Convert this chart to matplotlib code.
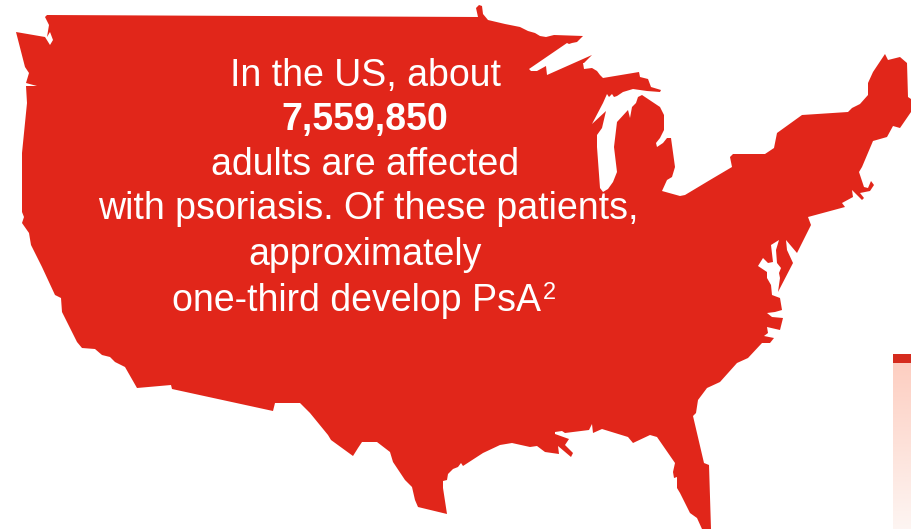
import numpy as np
import matplotlib.pyplot as plt

# Map outline (pixel positions), clockwise from the north west corner
outline = [
    (47,15),(478,17),(476,8),(479,5),(482,6),(483,14),(488,20),(505,24),(520,27),(528,31),(535,33),(540,36),(546,37),(554,35),(583,36),
    (577,42),(572,43),(569,44),(567,43),(529,69),(531,71),(537,71),(546,66),(547,75),(592,55),(584,63),(583,63),(584,69),(592,68),
    (597,71),(600,75),(603,78),(639,72),(640,77),(648,79),(651,87),(661,90),(660,92),(647,91),(633,89),(623,92),(617,96),(614,97),
    (612,94),(609,97),(607,94),(603,103),(592,124),(606,111),(602,128),(597,135),(597,147),(600,188),(603,192),(608,189),(613,182),
    (617,172),(614,147),(617,122),(628,110),(630,118),(632,107),(636,103),(638,97),(642,95),(660,107),(664,115),(664,130),(660,138),
    (656,143),(657,147),(663,143),(667,138),(671,138),(675,167),(672,177),(667,180),(662,191),(680,196),(685,195),(710,180),
    (732,167),(730,157),(733,154),(765,154),(774,148),(777,133),(802,115),(848,112),(852,108),(860,104),(868,95),(868,83),(873,72),
    (885,54),(888,60),(900,57),(907,63),(908,97),(911,99),(911,112),(900,128),(893,126),(887,137),(873,141),(862,167),(859,172),
    (864,187),(868,188),(871,181),(874,185),(870,191),(860,193),(864,198),(862,200),(857,195),(852,190),(853,197),(842,203),(845,207),
    (808,217),(811,225),(797,253),(786,240),(787,250),(793,263),(778,292),(780,278),(779,273),(781,268),(777,263),(776,250),(779,240),
    (771,245),(773,262),(768,263),(763,258),(758,266),(767,272),(767,278),(771,285),(772,295),(780,298),(782,310),(775,312),(767,313),
    (772,317),(783,318),(780,330),(767,327),(768,333),(764,336),(774,338),(770,343),(762,343),(748,358),(737,363),(720,382),(707,388),
    (698,400),(696,413),(693,416),(704,463),(709,465),(711,529),(702,529),(697,518),(690,513),(680,493),(677,488),(677,477),(674,478),
    (673,472),(675,463),(657,437),(650,435),(633,443),(628,437),(602,429),(593,433),(592,424),(589,430),(565,433),(562,431),(555,432),
    (555,434),(569,439),(565,445),(573,453),(571,457),(558,446),(559,454),(545,452),(537,446),(530,447),(512,443),(500,445),(483,453),
    (463,466),(461,463),(458,467),(453,469),(448,474),(447,480),(443,481),(443,488),(447,514),(418,507),(415,500),(412,487),(405,480),
    (393,462),(390,452),(377,442),(362,442),(358,448),(353,456),(331,440),(328,435),(310,413),(300,403),(275,403),(273,411),(172,389),
    (171,385),(137,388),(125,367),(115,362),(110,357),(102,355),(95,349),(82,348),(77,342),(62,312),(61,298),(55,295),(42,267),(31,245),
    (29,233),(22,223),(24,217),(22,212),(22,153),(27,103),(26,86),(37,86),(26,83),(29,73),(25,67),(16,32),(45,37),(50,45),(53,40),(50,32),
    (47,37),(49,25),(45,17),
]

text_lines = ['In the US, about', '7,559,850', 'adults are affected',
              'with psoriasis. Of these patients,', 'approximately', 'one-third develop PsA']
text_weights = ['normal', 'bold', 'normal', 'normal', 'normal', 'normal']
text_x = [365, 365, 365, 368, 365, 357]
text_y = [86, 130, 175, 219, 265, 311]

fig = plt.figure(figsize=(9.11, 5.29), dpi=100)
ax = fig.add_axes([0, 0, 1, 1])
ax.set_xlim(0, 911)
ax.set_ylim(529, 0)
ax.axis('off')

xs, ys = zip(*outline)
ax.fill(xs, ys, color='#e1261a', lw=0)

# Corner of the box on the right
fade = np.linspace(0, 1, 100).reshape(-1, 1)
top_col = np.array([253, 206, 193]) / 255
end_col = np.array([253, 245, 242]) / 255
ax.imshow(top_col + fade[:, :, None] * (end_col - top_col), extent=[893, 911, 529, 362], aspect='auto', zorder=1)
ax.fill_between([893, 911], 354, 363, color='#d52b1e', lw=0, zorder=2)
ax.set_xlim(0, 911)
ax.set_ylim(529, 0)

for line, weight, x, y in zip(text_lines, text_weights, text_x, text_y):
    ax.text(x, y, line, color='white', fontsize=27, fontweight=weight, family='Liberation Sans',
            ha='center', va='baseline', zorder=3)
ax.text(543, 299, '2', color='white', fontsize=17, family='Liberation Sans', ha='left', va='baseline', zorder=3)

plt.savefig('out.png', dpi=100)
